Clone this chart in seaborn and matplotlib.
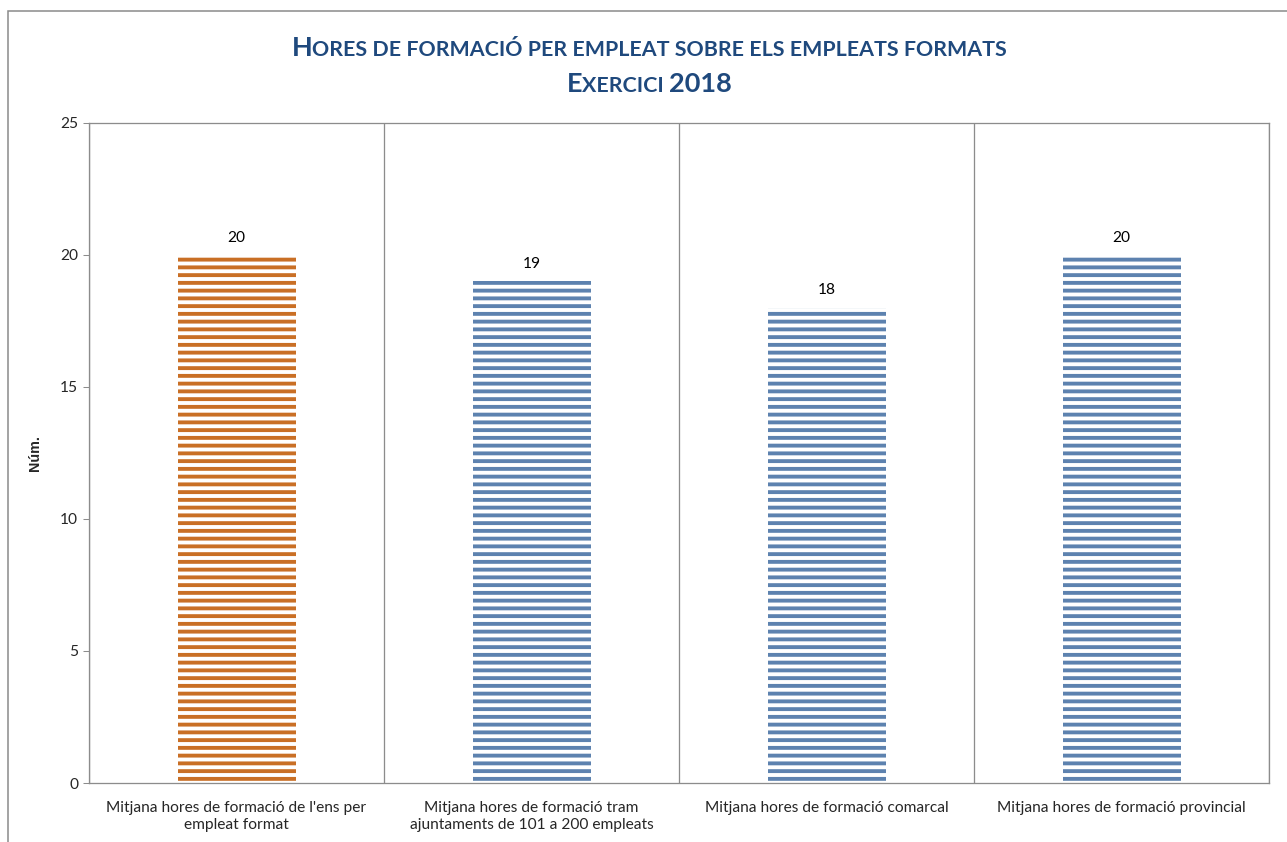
import numpy as np
import pandas as pd
import seaborn as sns
import matplotlib.pyplot as plt
from matplotlib.offsetbox import TextArea, HPacker, VPacker, AnchoredOffsetbox
from matplotlib.patches import Rectangle

# data ----------------------------------------------------------------------
categories = ["Mitjana hores de formació de l'ens per\nempleat format",
              "Mitjana hores de formació tram\najuntaments de 101 a 200 empleats",
              "Mitjana hores de formació comarcal",
              "Mitjana hores de formació provincial"]
values = [20, 19, 18, 20]
groups = ["ens", "ref", "ref", "ref"]
title_lines = ["Hores de formació per empleat sobre els empleats formats",
               "Exercici 2018"]
ylabel = "Núm."

palette = {"ens": "#E46C0A", "ref": "#4F81BD"}
title_color = "#1F497D"
grey = "#8C8C8C"

df = pd.DataFrame({"cat": categories, "val": values, "grp": groups})

sns.set_style("white")
plt.rcParams['font.family'] = ['Lato', 'DejaVu Sans']
plt.rcParams['hatch.linewidth'] = 3.0

DPI = 93
W, H = 1287, 842
fig = plt.figure(figsize=(W / DPI, H / DPI), dpi=DPI)
ax = fig.add_axes([89 / W, 1 - 783 / H, (1269 - 89) / W, (783 - 123) / H])

sns.barplot(data=df, x="cat", y="val", hue="grp", palette=palette,
            width=0.4, dodge=False, legend=False, ax=ax)

# striped bars
for bar in ax.patches:
    c = bar.get_facecolor()
    bar.set_facecolor("white")
    bar.set_edgecolor(c)
    bar.set_hatch("--")
    bar.set_linewidth(0)

for cont in ax.containers:
    ax.bar_label(cont, fmt="%.0f", padding=8, fontsize=12, color="black")

# axes ----------------------------------------------------------------------
ax.set_xlim(-0.5, 3.5)
ax.set_ylim(0, 25)
ax.set_yticks(np.arange(0, 26, 5))
ax.set_xticks(np.arange(-0.5, 3.6, 1), minor=True)
ax.tick_params(axis="x", which="major", length=0, labelsize=12, pad=14)
ax.tick_params(axis="x", which="minor", length=5, color=grey, direction="out")
ax.tick_params(axis="y", length=5, color=grey, direction="out", labelsize=12, left=True)
for lab in ax.get_xticklabels():
    lab.set_linespacing(1.3)
ax.grid(axis="x", which="minor", color=grey, lw=1)
ax.set_xlabel("")
ax.set_ylabel(ylabel, fontsize=11, fontweight="bold", labelpad=14,
              family=["Liberation Sans", "DejaVu Sans"])
for s in ax.spines.values():
    s.set_color(grey)
    s.set_linewidth(1)

# small caps title ------------------------------------------------------------
def small_caps(line, big=21, small=16.5):
    runs = []
    for ch in line:
        size = small if ch.islower() or ch == " " else big
        if runs and runs[-1][1] == size:
            runs[-1][0] += ch.upper()
        else:
            runs.append([ch.upper(), size])
    boxes = [TextArea(t, textprops=dict(fontsize=s, fontweight="bold", color=title_color))
             for t, s in runs]
    return HPacker(children=boxes, align="baseline", pad=0, sep=0)

title = VPacker(children=[small_caps(l) for l in title_lines], align="center", pad=0, sep=10)
anch = AnchoredOffsetbox(loc="center", child=title, frameon=False, pad=0,
                         bbox_to_anchor=(649.5 / W, 1 - 66 / H),
                         bbox_transform=fig.transFigure)
fig.add_artist(anch)

# outer chart frame
fig.add_artist(Rectangle((8 / W, -0.5), 2, 1.5 - 11 / H, transform=fig.transFigure,
                         fill=False, edgecolor=grey, lw=1.2))

fig.savefig("out.png", dpi=DPI)
